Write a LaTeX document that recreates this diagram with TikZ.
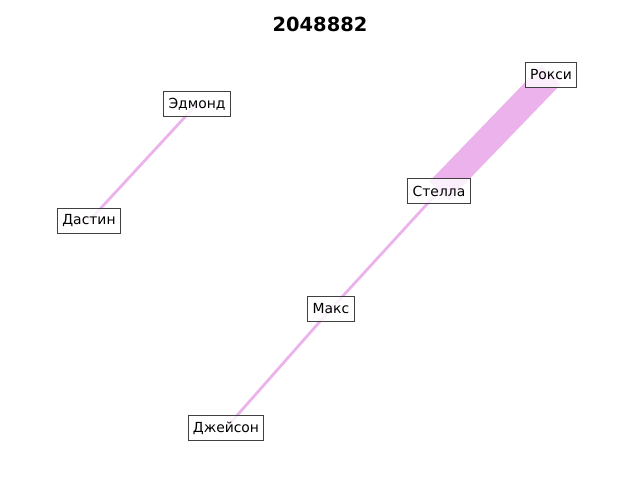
\documentclass[tikz,border=0pt]{standalone}
\usepackage{fontspec}
\setmainfont{DejaVu Sans}
\definecolor{edgepink}{RGB}{235,178,235}
\definecolor{boxedge}{RGB}{64,64,64}
\tikzset{
  person/.style={draw=boxedge, line width=0.8pt, fill=white, fill opacity=0.8, text opacity=1,
    font=\fontsize{10}{12}\selectfont, inner xsep=3.5pt, inner ysep=0pt, minimum height=18pt, anchor=center},
  thinedge/.style={draw=edgepink, line width=2pt, line cap=butt},
  thickedge/.style={draw=edgepink, line width=19.5pt, line cap=butt},
  titletext/.style={font=\bfseries\fontsize{14}{16}\selectfont}
}
\begin{document}
\begin{tikzpicture}[x=0.72pt, y=-0.72pt]
\useasboundingbox (0,0) rectangle (640,480);
\coordinate (cE) at (197,104);
\coordinate (cD) at (89,221);
\coordinate (cR) at (551,75);
\coordinate (cS) at (439,191);
\coordinate (cM) at (331,309);
\coordinate (cJ) at (226,428);
\draw[thinedge] (cE) -- (cD);
\draw[thickedge] (cS) -- (cR);
\draw[thinedge] (cM) -- (cS);
\draw[thinedge] (cJ) -- (cM);
\node[person] (E) at (cE) {Эдмонд};
\node[person] (D) at (cD) {Дастин};
\node[person] (R) at (cR) {Рокси};
\node[person] (S) at (cS) {Стелла};
\node[person] (M) at (cM) {Макс};
\node[person] (J) at (cJ) {Джейсон};
\node[titletext] (T) at (320,24) {2048882};
\end{tikzpicture}
\end{document}
